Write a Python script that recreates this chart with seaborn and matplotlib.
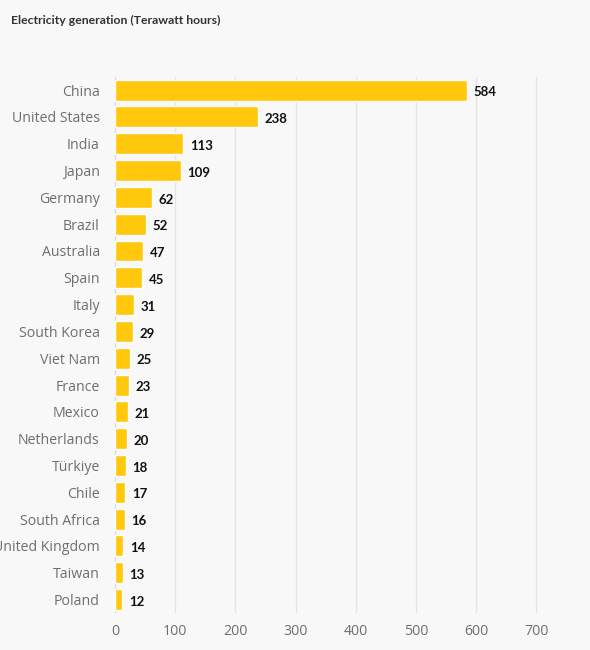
import matplotlib
matplotlib.use("Agg")
import matplotlib.pyplot as plt
import seaborn as sns
import pandas as pd

# Dados
paises = ["China", "United States", "India", "Japan", "Germany", "Brazil", "Australia",
          "Spain", "Italy", "South Korea", "Viet Nam", "France", "Mexico", "Netherlands",
          "Türkiye", "Chile", "South Africa", "United Kingdom", "Taiwan", "Poland"]
geracao_twh = [584, 238, 113, 109, 62, 52, 47, 45, 31, 29, 25, 23, 21, 20, 18, 17, 16, 14, 13, 12]
marcas_x = [0, 100, 200, 300, 400, 500, 600, 700]

df = pd.DataFrame({"pais": paises, "twh": geracao_twh})

sns.set_theme(style="white")
plt.rcParams["font.family"] = ["Open Sans", "DejaVu Sans"]

fundo = "#f8f8f8"
fig = plt.figure(figsize=(5.9, 6.5), dpi=100, facecolor=fundo)
ax = fig.add_axes([0.195, 0.057, 0.755, 0.825], facecolor=fundo)

sns.barplot(data=df, x="twh", y="pais", color="#ffc80d", saturation=1, width=0.78, ax=ax, zorder=3)

# Valores no fim de cada barra
for barra, valor in zip(ax.patches, df["twh"]):
    ax.text(barra.get_width() + 11, barra.get_y() + barra.get_height() / 2 + 0.08, str(valor),
            ha="left", va="center", fontsize=9.5, fontweight="bold", color="#111111",
            family=["Lato", "DejaVu Sans"], zorder=4)

ax.set_xlim(0, 740)
ax.set_ylim(19.5, -0.5)
ax.set_xticks(marcas_x)
ax.set_xlabel("")
ax.set_ylabel("")
ax.grid(axis="x", color="#e4e4e4", linewidth=1, zorder=0)
ax.grid(axis="y", visible=False)
for lado in ax.spines.values():
    lado.set_visible(False)
ax.axvline(0, color="#c9d5ee", linewidth=1.2, zorder=2)
ax.tick_params(axis="both", length=0, labelsize=10.2, labelcolor="#6e6e6e")
ax.tick_params(axis="y", pad=11)
ax.tick_params(axis="x", pad=8)

fig.text(0.018, 0.968, "Electricity generation (Terawatt hours)", fontsize=8.8, fontweight="bold",
         color="#333333", ha="left", va="center", family=["Lato", "DejaVu Sans"])

fig.savefig("out.png", dpi=100, facecolor=fundo)
